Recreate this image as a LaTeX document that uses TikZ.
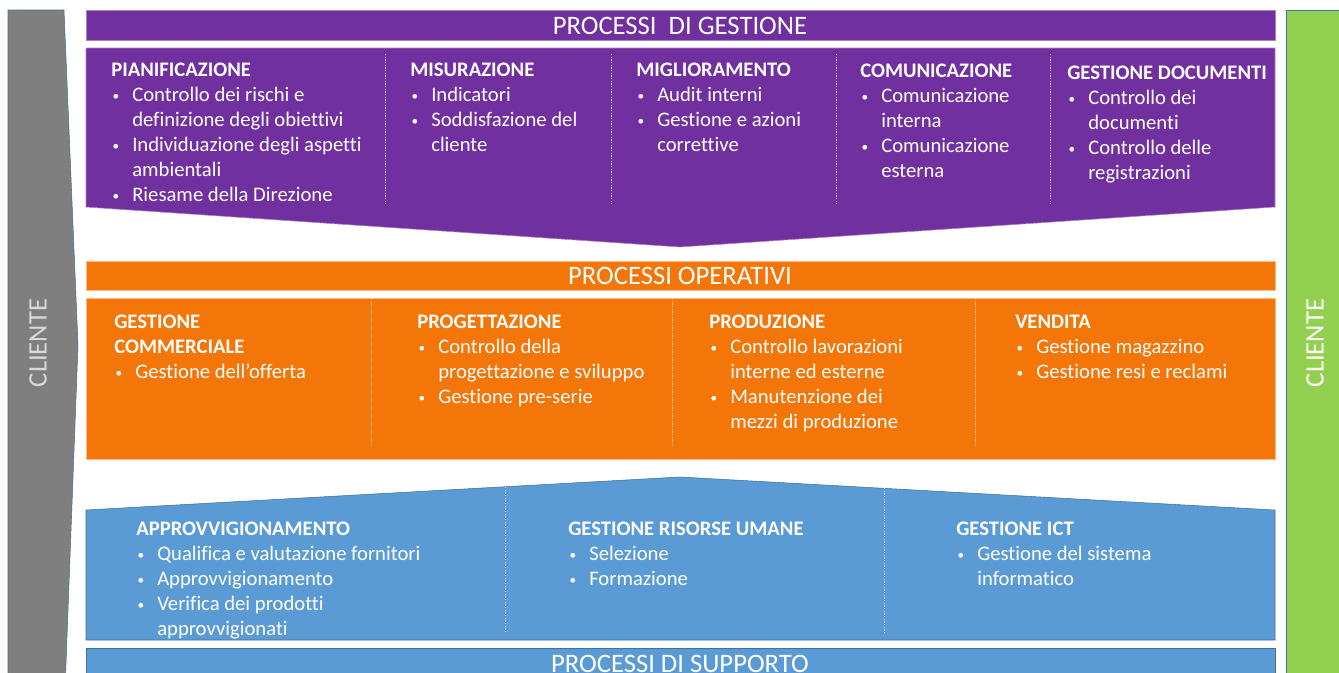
\documentclass[tikz,border=0pt]{standalone}
\usepackage{fontspec}
\setmainfont{Carlito}[Ligatures=NoCommon]
\usetikzlibrary{positioning}
\definecolor{gest}{HTML}{7030A0}
\definecolor{oper}{HTML}{F47508}
\definecolor{supp}{HTML}{5B9BD5}
\definecolor{suppline}{HTML}{41719C}
\definecolor{clgray}{HTML}{7F7F7F}
\definecolor{clgreen}{HTML}{92D050}
\newcommand{\itm}{\makebox[15.75pt][l]{\hspace{1pt}\raisebox{1pt}{\fontsize{10}{10}\selectfont\textbullet}}}
\newcommand{\cont}{\hspace*{15.75pt}}

\begin{document}
\begin{tikzpicture}[x=0.75pt,y=-0.75pt,
    title/.style={text=white,font=\fontsize{20}{24}\selectfont,inner sep=0},
    col/.style={anchor=north west,align=left,text=white,inner sep=0,font=\fontsize{15.5}{18.75}\selectfont},
    sep/.style={white,line width=0.6pt,dash pattern=on 1pt off 1pt,opacity=0.7}]
  \useasboundingbox (0,0) rectangle (1339,672);
  \clip (0,0) rectangle (1339,672);
  \fill[white] (0,0) rectangle (1339,672);

  \draw[fill=clgray,draw=suppline] (8,10) -- (64,10) -- (78,345) -- (65,690) -- (8,690) -- cycle;
  \node[title,rotate=90,text=black!15] (cl_l) at (38,343) {CLIENTE};
  \draw[fill=clgreen,draw=suppline] (1286,10) rectangle (1350,690);
  \node[title,rotate=90] (cl_r) at (1315,343) {CLIENTE};

  \draw[fill=gest,draw=gest!60!white] (86,10) rectangle (1275,40);
  \node[title] (t_gest) at (680,25.5) {PROCESSI\ \ DI GESTIONE};
  \draw[fill=gest,draw=gest!60!white] (86,48) -- (1275,48) -- (1275,207) -- (680,247) -- (86,207) -- cycle;
  \foreach \x in {385,611,836,1050}
    \draw[sep] (\x,54) -- (\x,204);

  \node[col] (g_1) at (111,63) {\textbf{PIANIFICAZIONE}\\ \itm Controllo dei rischi e\\ \cont definizione degli obiettivi\\
    \itm Individuazione degli aspetti\\ \cont ambientali\\ \itm Riesame della Direzione};
  \node[col] (g_2) at (410,63) {\textbf{MISURAZIONE}\\ \itm Indicatori\\ \itm Soddisfazione del\\ \cont cliente};
  \node[col] (g_3) at (636,63) {\textbf{MIGLIORAMENTO}\\ \itm Audit interni\\ \itm Gestione e azioni\\ \cont correttive};
  \node[col] (g_4) at (860,64) {\textbf{COMUNICAZIONE}\\ \itm Comunicazione\\ \cont interna\\ \itm Comunicazione\\ \cont esterna};
  \node[col] (g_5) at (1067,66) {\textbf{GESTIONE DOCUMENTI}\\ \itm Controllo dei\\ \cont documenti\\ \itm Controllo delle\\ \cont registrazioni};

  \draw[fill=oper,draw=oper!50!white] (86,261) rectangle (1275,290);
  \node[title] (t_oper) at (680,276) {PROCESSI OPERATIVI};
  \draw[fill=oper,draw=oper!50!white] (86,298) rectangle (1275,459);
  \foreach \x in {371,672,975}
    \draw[sep] (\x,298) -- (\x,446);

  \node[col] (o_1) at (114,315) {\textbf{GESTIONE}\\ \textbf{COMMERCIALE}\\ \itm Gestione dell’offerta};
  \node[col] (o_2) at (417,315) {\textbf{PROGETTAZIONE}\\ \itm Controllo della\\ \cont progettazione e sviluppo\\ \itm Gestione pre-serie};
  \node[col] (o_3) at (709,315) {\textbf{PRODUZIONE}\\ \itm Controllo lavorazioni\\ \cont interne ed esterne\\ \itm Manutenzione dei\\ \cont mezzi di produzione};
  \node[col] (o_4) at (1015,315) {\textbf{VENDITA}\\ \itm Gestione magazzino\\ \itm Gestione resi e reclami};

  \draw[fill=supp,draw=suppline] (86,510) -- (680,477) -- (1275,510) -- (1275,640) -- (86,640) -- cycle;
  \draw[sep] (505,487) -- (505,633);
  \draw[sep] (884,488) -- (884,633);
  \draw[fill=supp,draw=suppline] (86,648) rectangle (1275,700);
  \node[title] (t_supp) at (680,663.5) {PROCESSI DI SUPPORTO};

  \node[col] (s_1) at (136,522) {\textbf{APPROVVIGIONAMENTO}\\ \itm Qualifica e valutazione fornitori\\ \itm Approvvigionamento\\
    \itm Verifica dei prodotti\\ \cont approvvigionati};
  \node[col] (s_2) at (568,522) {\textbf{GESTIONE RISORSE UMANE}\\ \itm Selezione\\ \itm Formazione};
  \node[col] (s_3) at (956,522) {\textbf{GESTIONE ICT}\\ \itm Gestione del sistema\\ \cont informatico};
\end{tikzpicture}
\end{document}
